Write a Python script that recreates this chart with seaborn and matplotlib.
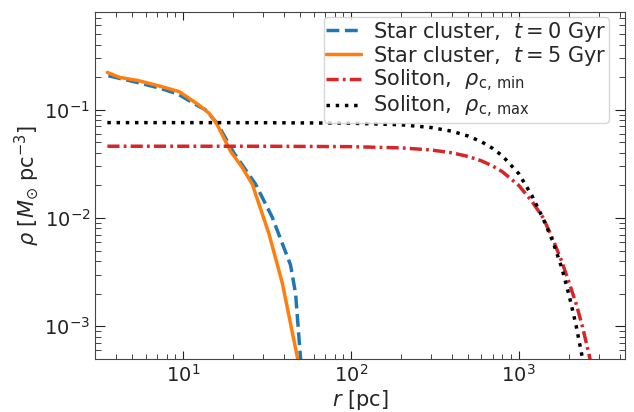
import numpy as np
import pandas as pd
import matplotlib
matplotlib.use("Agg")
import matplotlib.pyplot as plt
import seaborn as sns

# ---- data ----
r_t0 = [3.6, 5.4, 7.3, 9.3, 12.5, 13.6, 16.0, 20.1, 27.1, 34.0, 43.7, 46.9, 52.5]
rho_t0 = [0.206, 0.178, 0.158, 0.140, 0.107, 0.100, 0.075, 0.040, 0.0205, 0.0102, 0.0037, 0.0020, 0.0002]

r_t5 = [3.55, 4.2, 5.4, 7.3, 9.5, 12.4, 14.3, 16.0, 19.2, 22.5, 25.9, 32.5, 39.1, 48.0, 50.0]
rho_t5 = [0.221, 0.199, 0.186, 0.165, 0.147, 0.111, 0.093, 0.0728, 0.0414, 0.0295, 0.0205, 0.0072, 0.0025, 0.00052, 0.00035]

r_sol = [3.55, 10, 30, 100, 200, 300, 400, 500, 600, 700, 800, 1000, 1200, 1400,
         1600, 1800, 2000, 2200, 2400, 2600, 2800, 3000]
rho_sol_min = [0.046, 0.046, 0.046, 0.0456, 0.0444, 0.0425, 0.0400, 0.0370, 0.0337, 0.0302,
               0.0267, 0.0200, 0.0142, 0.0100, 0.0063, 0.0040, 0.0025, 0.0016, 0.00098,
               0.00058, 0.00034, 0.00019]
rho_sol_max = [0.076, 0.076, 0.0759, 0.0751, 0.0726, 0.0685, 0.0633, 0.0571, 0.0506, 0.0439,
               0.0374, 0.0257, 0.0160, 0.0098, 0.0060, 0.0035, 0.0019, 0.00100, 0.00050,
               0.00026, 0.00014, 0.00008]

labels = [r"Star cluster, $\ t = 0$ Gyr",
          r"Star cluster, $\ t = 5$ Gyr",
          r"Soliton, $\ \rho_{\rm c,\,min}$",
          r"Soliton, $\ \rho_{\rm c,\,max}$"]
colors = ["#1f77b4", "#ff7f0e", "#d62728", "black"]
styles = ["--", "-", (0, (3.5, 1.2, 0.8, 1.2)), ":"]

sns.set_style("ticks")
plt.rcParams["font.family"] = ["DejaVu Sans"]
plt.rcParams.update({
    "xtick.direction": "in", "ytick.direction": "in",
    "xtick.top": True, "ytick.right": True,
    "xtick.major.size": 6, "ytick.major.size": 7,
    "xtick.minor.size": 3.5, "ytick.minor.size": 4,
    "axes.edgecolor": "#444444",
    "xtick.color": "#222222", "ytick.color": "#222222",
})

fig = plt.figure(figsize=(6.34, 4.12), dpi=100)
ax = fig.add_axes([0.150, 0.129, 0.836, 0.842])

series = [(r_t0, rho_t0), (r_t5, rho_t5), (r_sol, rho_sol_min), (r_sol, rho_sol_max)]
for (x, y), lab, c, ls in zip(series, labels, colors, styles):
    df = pd.DataFrame({"r": x, "rho": y})
    sns.lineplot(data=df, x="r", y="rho", ax=ax, color=c, linestyle=ls,
                 linewidth=2.5, label=lab, estimator=None, sort=False)

ax.set_xscale("log")
ax.set_yscale("log")
ax.set_xlim(3.0, 4300)
ax.set_ylim(5e-4, 0.8)
ax.tick_params(which="both", labelsize=14, top=True, right=True, direction="in")
ax.set_xlabel(r"$r$ [pc]", fontsize=15, labelpad=2)
ax.set_ylabel(r"$\rho$ [$M_{\odot}$ pc$^{-3}$]", fontsize=15, labelpad=2)

leg = ax.legend(loc="upper right", bbox_to_anchor=(0.969, 0.985), borderaxespad=0,
                fontsize=15, handlelength=1.7, labelspacing=0.0,
                borderpad=0.12, handletextpad=0.55, frameon=True, fancybox=True)
leg.get_frame().set_edgecolor("#cccccc")

fig.savefig("out.png", dpi=100)
